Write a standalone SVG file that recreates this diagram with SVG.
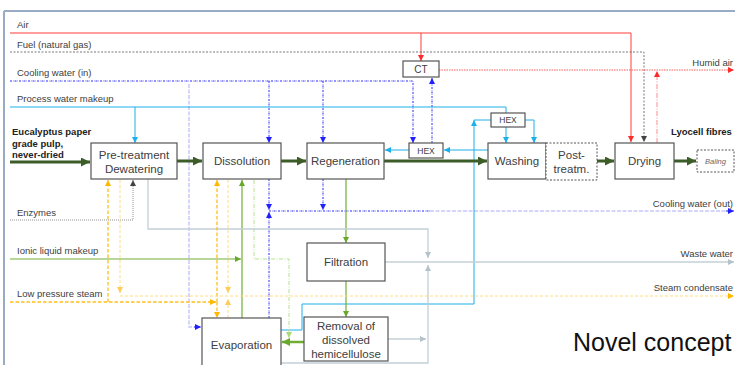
<svg xmlns="http://www.w3.org/2000/svg" width="735" height="365" viewBox="0 0 735 365">
<style>
text{font-family:"Liberation Sans",Arial,sans-serif;fill:#404040}
.lbl{font-size:9.5px}
.box{fill:#fff;stroke:#555;stroke-width:1.2}
.dbox{fill:#fff;stroke:#555;stroke-width:1;stroke-dasharray:2,1.5}
.bt{font-size:11.5px;text-anchor:middle}
.hx{font-size:8.5px;text-anchor:middle}
.bold{font-weight:bold;font-size:9.5px;fill:#222}
.c{fill:none}
.red{stroke:#ff3b3b;stroke-width:1}
.fuel{stroke:#555;stroke-width:0.8;stroke-dasharray:2,1.5}
.blue{stroke:#2a2aff;stroke-width:1;stroke-dasharray:2,1,0.5,1}
.lav{stroke:#c8c8fb;stroke-width:1.5;stroke-dasharray:4,1.5}
.cyan{stroke:#1cb0ea;stroke-width:1}
.main{stroke:#3c5c28;stroke-width:3}
.grn{stroke:#70ad33;stroke-width:1.2}
.grn2{stroke:#70ad33;stroke-width:2.5}
.lgr{stroke:#b8e08e;stroke-width:1;stroke-dasharray:4,1.5,1,1.5}
.org{stroke:#ffbf1a;stroke-width:1.3;stroke-dasharray:3.5,2}
.lyl{stroke:#ffdc80;stroke-width:1;stroke-dasharray:3,2}
.stl{stroke:#c4d0d6;stroke-width:1.3}
.enz{stroke:#888;stroke-width:0.9;stroke-dasharray:1,1}
.hum{stroke:#ff4a4a;stroke-width:0.9;stroke-dasharray:1.5,1}
.exh{stroke:#ff8c8c;stroke-width:1;stroke-dasharray:5,1.5,1,1.5}
</style>
<defs>
<marker id="aRed" viewBox="0 0 10 10" refX="10" refY="5" markerWidth="6" markerHeight="6" markerUnits="userSpaceOnUse" orient="auto"><path d="M0,0L10,5L0,10z" fill="#ff2a2a"/></marker>
<marker id="aGray" viewBox="0 0 10 10" refX="10" refY="5" markerWidth="6" markerHeight="6" markerUnits="userSpaceOnUse" orient="auto"><path d="M0,0L10,5L0,10z" fill="#444"/></marker>
<marker id="aBlue" viewBox="0 0 10 10" refX="10" refY="5" markerWidth="6" markerHeight="6" markerUnits="userSpaceOnUse" orient="auto"><path d="M0,0L10,5L0,10z" fill="#2020ff"/></marker>
<marker id="aCyan" viewBox="0 0 10 10" refX="10" refY="5" markerWidth="6" markerHeight="6" markerUnits="userSpaceOnUse" orient="auto"><path d="M0,0L10,5L0,10z" fill="#1cb0ea"/></marker>
<marker id="aMain" viewBox="0 0 10 10" refX="10" refY="5" markerWidth="10" markerHeight="9" markerUnits="userSpaceOnUse" orient="auto"><path d="M0,0L10,5L0,10z" fill="#3c5c28"/></marker>
<marker id="aGrn" viewBox="0 0 10 10" refX="10" refY="5" markerWidth="6" markerHeight="6" markerUnits="userSpaceOnUse" orient="auto"><path d="M0,0L10,5L0,10z" fill="#6aa82c"/></marker>
<marker id="aGrn2" viewBox="0 0 10 10" refX="10" refY="5" markerWidth="8" markerHeight="8" markerUnits="userSpaceOnUse" orient="auto"><path d="M0,0L10,5L0,10z" fill="#6aa82c"/></marker>
<marker id="aLgr" viewBox="0 0 10 10" refX="10" refY="5" markerWidth="6" markerHeight="6" markerUnits="userSpaceOnUse" orient="auto"><path d="M0,0L10,5L0,10z" fill="#a8d878"/></marker>
<marker id="aOrg" viewBox="0 0 10 10" refX="10" refY="5" markerWidth="6" markerHeight="6" markerUnits="userSpaceOnUse" orient="auto"><path d="M0,0L10,5L0,10z" fill="#ffb800"/></marker>
<marker id="aLyl" viewBox="0 0 10 10" refX="10" refY="5" markerWidth="6" markerHeight="6" markerUnits="userSpaceOnUse" orient="auto"><path d="M0,0L10,5L0,10z" fill="#ffcc55"/></marker>
<marker id="aStl" viewBox="0 0 10 10" refX="10" refY="5" markerWidth="6" markerHeight="6" markerUnits="userSpaceOnUse" orient="auto"><path d="M0,0L10,5L0,10z" fill="#b4c2ca"/></marker>
</defs>

<g id="frame">
<line x1="4" y1="11" x2="735" y2="11" stroke="#9aabc6" stroke-width="2"/>
<line x1="4" y1="11" x2="4" y2="365" stroke="#9aabc6" stroke-width="2"/>
</g>

<g id="connectors" class="c">
<path class="c red" d="M10,33H631V142" marker-end="url(#aRed)"/>
<path class="c red" d="M421,33V61" marker-end="url(#aRed)"/>
<path class="c fuel" d="M10,52H644V142" marker-end="url(#aGray)"/>
<path class="c hum" d="M439,70H734" marker-end="url(#aRed)"/>
<path class="c exh" d="M657,143V71" marker-end="url(#aRed)"/>
<path class="c lav" d="M189,84V327H196"/>
<path class="c blue" d="M194,327H201" marker-end="url(#aBlue)"/>
<path class="c blue" d="M10,81H413V143" marker-end="url(#aBlue)"/>
<path class="c blue" d="M269,81V143" marker-end="url(#aBlue)"/>
<path class="c blue" d="M323,81V143" marker-end="url(#aBlue)"/>
<path class="c blue" d="M432,143V78" marker-end="url(#aBlue)"/>
<path class="c blue" d="M269,179V210" marker-end="url(#aBlue)"/>
<path class="c blue" d="M323,179V210" marker-end="url(#aBlue)"/>
<path class="c blue" d="M269,318V212" marker-end="url(#aBlue)"/>
<path class="c blue" d="M269,211H430"/>
<path class="c lav" d="M430,211H734" stroke-width="1"/>
<path class="c blue" d="M726,211H734" marker-end="url(#aBlue)"/>
<path class="c cyan" d="M10,107H506V113"/>
<path class="c cyan" d="M135,107V143" marker-end="url(#aCyan)"/>
<path class="c cyan" d="M506,127V143" marker-end="url(#aCyan)"/>
<path class="c cyan" d="M525,120H534V143" marker-end="url(#aCyan)"/>
<path class="c cyan" d="M281,330H302V304H474V120" marker-end="url(#aCyan)"/>
<path class="c cyan" d="M474,120H491"/>
<path class="c cyan" d="M488,150H444" marker-end="url(#aCyan)"/>
<path class="c cyan" d="M409,150H385" marker-end="url(#aCyan)"/>
<path class="c main" d="M10,162H90" marker-end="url(#aMain)"/>
<path class="c main" d="M177,161H202" marker-end="url(#aMain)"/>
<path class="c main" d="M281,161H306" marker-end="url(#aMain)"/>
<path class="c main" d="M384,161H487" marker-end="url(#aMain)"/>
<path class="c main" d="M597,161H614" marker-end="url(#aMain)"/>
<path class="c main" d="M674,161H696" marker-end="url(#aMain)"/>
<path class="c grn" d="M10,259H241" marker-end="url(#aGrn)"/>
<path class="c grn" d="M242,318V180" marker-end="url(#aGrn)"/>
<path class="c grn" d="M346,179V243" marker-end="url(#aGrn)"/>
<path class="c grn" d="M346,281V317" marker-end="url(#aGrn)"/>
<path class="c grn2" d="M304,342H282" marker-end="url(#aGrn2)"/>
<path class="c lgr" d="M254,180V259H289V338" marker-end="url(#aLgr)"/>
<path class="c enz" d="M10,220H133V180" marker-end="url(#aGray)"/>
<path class="c stl" d="M148,179V229H428V258" marker-end="url(#aStl)"/>
<path class="c stl" d="M281,363H428V265" marker-end="url(#aStl)"/>
<path class="c stl" d="M385,262H734" marker-end="url(#aStl)"/>
<path class="c stl" d="M388,339H426" marker-end="url(#aStl)"/>
<path class="c org" d="M10,302H216" marker-end="url(#aOrg)"/>
<path class="c org" d="M108,302V180" marker-end="url(#aOrg)"/>
<path class="c org" d="M217,302V180" marker-end="url(#aOrg)"/>
<path class="c org" d="M217,302V318" marker-end="url(#aOrg)"/>
<path class="c lyl" d="M120,180V293" marker-end="url(#aLyl)"/>
<path class="c lyl" d="M228,180V293" marker-end="url(#aLyl)"/>
<path class="c lyl" d="M228,318V299" marker-end="url(#aLyl)"/>
<path class="c lyl" d="M120,296H734" marker-end="url(#aOrg)"/>
</g>

<g id="labels">
<text class="lbl" x="17" y="28">Air</text>
<text class="lbl" x="17" y="48">Fuel (natural gas)</text>
<text class="lbl" x="17" y="76">Cooling water (in)</text>
<text class="lbl" x="17" y="102">Process water makeup</text>
<text class="lbl" x="17" y="216">Enzymes</text>
<text class="lbl" x="17" y="254">Ionic liquid makeup</text>
<text class="lbl" x="17" y="297">Low pressure steam</text>
<text class="bold" x="12" y="135">Eucalyptus paper</text>
<text class="bold" x="12" y="147">grade pulp,</text>
<text class="bold" x="12" y="158">never-dried</text>
<text class="bold" x="671" y="135">Lyocell fibres</text>
<text class="lbl" x="733" y="66" text-anchor="end">Humid air</text>
<text class="lbl" x="733" y="207" text-anchor="end">Cooling water (out)</text>
<text class="lbl" x="733" y="257" text-anchor="end">Waste water</text>
<text class="lbl" x="733" y="291" text-anchor="end">Steam condensate</text>
<text x="573" y="351" font-size="25" style="fill:#111">Novel concept</text>
</g>

<g id="pretreatment">
<rect class="box" x="91" y="143" width="86" height="36"/>
<text class="bt" x="134" y="159">Pre-treatment</text>
<text class="bt" x="134" y="173">Dewatering</text>
</g>
<g id="dissolution">
<rect class="box" x="203" y="143" width="78" height="36"/>
<text class="bt" x="242" y="165">Dissolution</text>
</g>
<g id="regeneration">
<rect class="box" x="307" y="143" width="77" height="36"/>
<text class="bt" x="345.5" y="165">Regeneration</text>
</g>
<g id="washing">
<rect class="box" x="488" y="143" width="58" height="36"/>
<text class="bt" x="517" y="165">Washing</text>
</g>
<g id="posttreatment">
<rect class="dbox" x="546" y="143" width="51" height="37"/>
<text class="bt" x="571.5" y="159">Post-</text>
<text class="bt" x="571.5" y="173">treatm.</text>
</g>
<g id="drying">
<rect class="box" x="615" y="143" width="59" height="36"/>
<text class="bt" x="644.5" y="165">Drying</text>
</g>
<g id="baling">
<rect class="dbox" x="697" y="150" width="37" height="22"/>
<text x="715.5" y="164" font-size="7.5" font-style="italic" text-anchor="middle" style="fill:#666">Baling</text>
</g>
<g id="filtration">
<rect class="box" x="307" y="243" width="78" height="38"/>
<text class="bt" x="346" y="266">Filtration</text>
</g>
<g id="removal">
<rect class="box" x="304" y="317" width="84" height="44"/>
<text class="bt" x="346" y="330">Removal of</text>
<text class="bt" x="346" y="344">dissolved</text>
<text class="bt" x="346" y="358">hemicellulose</text>
</g>
<g id="evaporation">
<rect class="box" x="202" y="318" width="79" height="60"/>
<text class="bt" x="241.5" y="349">Evaporation</text>
</g>
<g id="ct">
<rect class="box" x="403" y="61" width="36" height="16"/>
<text x="421" y="73" font-size="10" text-anchor="middle">CT</text>
</g>
<g id="hex1">
<rect class="box" x="491" y="113" width="34" height="14"/>
<text class="hx" x="508" y="123">HEX</text>
</g>
<g id="hex2">
<rect class="box" x="409" y="143" width="34" height="15"/>
<text class="hx" x="426" y="154">HEX</text>
</g>
</svg>
